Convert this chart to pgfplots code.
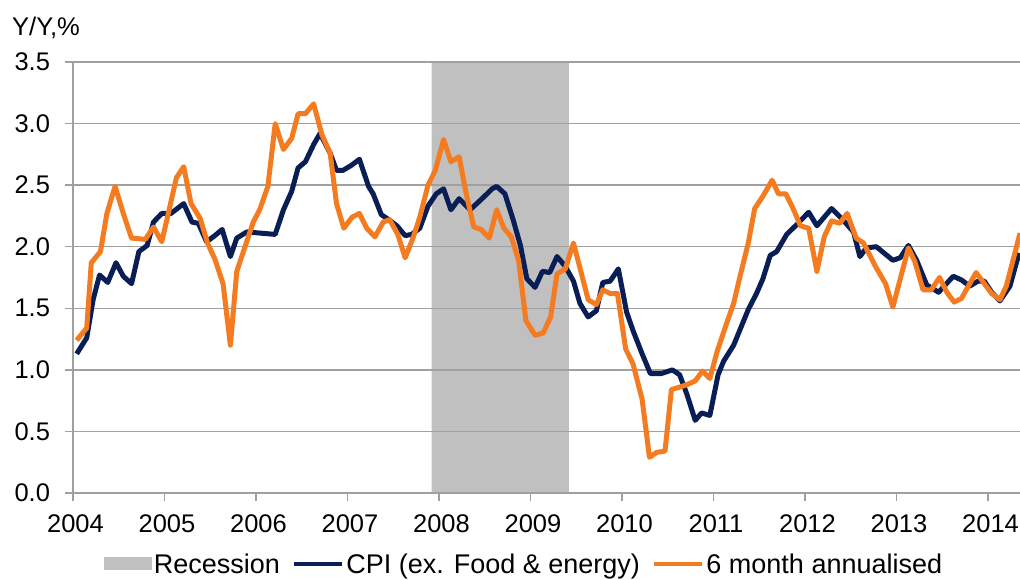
\documentclass[border=0pt]{standalone}
\usepackage{pgfplots}
\pgfplotsset{compat=1.18}
\usepackage{fontspec}
\setmainfont{Liberation Sans}
\definecolor{navy}{HTML}{0A1E56}
\definecolor{orng}{HTML}{F57B20}
\definecolor{recg}{HTML}{C0C0C0}
\definecolor{gridg}{HTML}{A0A0A0}
\begin{document}
\begin{tikzpicture}
\begin{axis}[
  set layers,
  scale only axis,
  width=960.75pt, height=431pt,
  at={(73pt,86pt)}, anchor=south west,
  xmin=2004, xmax=2014.5,
  ymin=0, ymax=3.5,
  axis lines*=left,
  axis line style={-, draw=gridg, line width=1.5pt},
  xtick={2004,2005,...,2014},
  ytick={0,0.5,...,3.5},
  tick align=outside,
  major tick length=8pt,
  tick style={draw=gridg, line width=1.5pt},
  ymajorgrids,
  major grid style={draw=gridg, line width=1.5pt},
  /pgf/number format/assume math mode=true,
  xticklabel style={font=\fontsize{25.5}{25.5}\selectfont, yshift=-10pt, xshift=2.5pt, /pgf/number format/1000 sep={}},
  yticklabel style={font=\fontsize{25.5}{25.5}\selectfont, xshift=-11.5pt, /pgf/number format/.cd, fixed, fixed zerofill, precision=1},
  legend style={draw=none, fill=none, font=\fontsize{27}{27}\selectfont,
    nodes={inner sep=2pt},
    legend columns=3, at={(0.4694,-0.1647)}, anchor=center,
    /tikz/every even column/.append style={column sep=10pt}},
]
\addplot[on layer=axis background, fill=recg, draw=none,
  legend image code/.code={\fill[recg] (0pt,-6.5pt) rectangle (48pt,6.5pt);}]
  coordinates {(2007.92,0) (2007.92,3.5) (2009.42,3.5) (2009.42,0)} \closedcycle;
\addlegendentry{Recession}
\addplot[navy, line width=5pt, line join=round,
  legend image code/.code={\draw[navy, line width=4.5pt] (0pt,0pt) -- (48pt,0pt);}]
  coordinates {
(2004.04,1.13) (2004.15,1.26) (2004.22,1.57) (2004.29,1.77) (2004.38,1.71)
(2004.47,1.87) (2004.55,1.76) (2004.64,1.70) (2004.72,1.96) (2004.81,2.01)
(2004.88,2.20) (2004.97,2.27) (2005.07,2.27) (2005.21,2.35) (2005.30,2.20)
(2005.37,2.19) (2005.46,2.04) (2005.55,2.09) (2005.63,2.14) (2005.72,1.92)
(2005.79,2.07) (2005.90,2.12) (2006.21,2.10) (2006.30,2.30) (2006.39,2.45)
(2006.46,2.64) (2006.54,2.69) (2006.63,2.83) (2006.70,2.92) (2006.81,2.76)
(2006.88,2.62) (2006.95,2.62) (2007.04,2.66) (2007.13,2.71) (2007.23,2.49)
(2007.28,2.43) (2007.37,2.26) (2007.45,2.22) (2007.54,2.17) (2007.63,2.09)
(2007.70,2.10) (2007.79,2.15) (2007.88,2.33) (2007.97,2.43) (2008.05,2.47)
(2008.13,2.30) (2008.22,2.39) (2008.34,2.30) (2008.47,2.39) (2008.58,2.47)
(2008.63,2.49) (2008.72,2.43) (2008.81,2.22) (2008.89,2.01) (2008.96,1.74)
(2009.05,1.67) (2009.13,1.80) (2009.21,1.79) (2009.29,1.92) (2009.38,1.84)
(2009.47,1.72) (2009.54,1.54) (2009.63,1.43) (2009.72,1.48) (2009.79,1.71)
(2009.87,1.72) (2009.96,1.82) (2010.05,1.47) (2010.12,1.32) (2010.22,1.13)
(2010.31,0.97) (2010.43,0.97) (2010.55,1.00) (2010.63,0.96) (2010.71,0.80)
(2010.80,0.59) (2010.87,0.65) (2010.96,0.63) (2011.05,0.96) (2011.11,1.07)
(2011.22,1.20) (2011.38,1.49) (2011.47,1.62) (2011.54,1.74) (2011.62,1.93)
(2011.69,1.96) (2011.80,2.10) (2011.91,2.18) (2012.04,2.28) (2012.13,2.17)
(2012.29,2.31) (2012.40,2.23) (2012.53,2.12) (2012.60,1.92) (2012.67,1.99)
(2012.78,2.00) (2012.96,1.89) (2013.04,1.91) (2013.13,2.01) (2013.22,1.89)
(2013.33,1.69) (2013.46,1.63) (2013.62,1.76) (2013.71,1.73) (2013.80,1.68)
(2013.89,1.72) (2013.96,1.72) (2014.04,1.63) (2014.13,1.56) (2014.24,1.68)
(2014.34,1.95)
};
\addlegendentry{CPI (ex. Food \& energy)}
\addplot[orng, line width=5pt, line join=round,
  legend image code/.code={\draw[orng, line width=4.5pt] (0pt,0pt) -- (48pt,0pt);}]
  coordinates {
(2004.04,1.24) (2004.15,1.34) (2004.20,1.87) (2004.30,1.96) (2004.37,2.27)
(2004.46,2.49) (2004.55,2.27) (2004.64,2.07) (2004.79,2.06) (2004.88,2.16)
(2004.97,2.04) (2005.06,2.33) (2005.13,2.56) (2005.21,2.65) (2005.29,2.35)
(2005.39,2.23) (2005.47,2.03) (2005.55,1.90) (2005.64,1.70) (2005.72,1.20)
(2005.79,1.80) (2005.88,2.00) (2005.97,2.20) (2006.04,2.30) (2006.13,2.49)
(2006.21,3.00) (2006.30,2.79) (2006.39,2.88) (2006.46,3.08) (2006.54,3.08)
(2006.63,3.16) (2006.72,2.91) (2006.81,2.76) (2006.88,2.35) (2006.96,2.15)
(2007.05,2.24) (2007.13,2.27) (2007.21,2.15) (2007.30,2.08) (2007.39,2.20)
(2007.46,2.22) (2007.55,2.10) (2007.63,1.91) (2007.72,2.08) (2007.79,2.24)
(2007.88,2.50) (2007.96,2.62) (2008.05,2.87) (2008.13,2.69) (2008.22,2.73)
(2008.30,2.42) (2008.38,2.16) (2008.46,2.14) (2008.55,2.07) (2008.63,2.30)
(2008.71,2.15) (2008.79,2.08) (2008.87,1.89) (2008.95,1.40) (2009.05,1.28)
(2009.14,1.30) (2009.22,1.43) (2009.29,1.78) (2009.38,1.82) (2009.47,2.03)
(2009.55,1.80) (2009.63,1.57) (2009.72,1.53) (2009.79,1.65) (2009.87,1.62)
(2009.95,1.62) (2010.04,1.17) (2010.12,1.05) (2010.22,0.76) (2010.30,0.29)
(2010.38,0.33) (2010.47,0.34) (2010.54,0.84) (2010.63,0.86) (2010.71,0.88)
(2010.80,0.91) (2010.88,0.99) (2010.96,0.93) (2011.04,1.15) (2011.13,1.35)
(2011.22,1.54) (2011.29,1.76) (2011.38,2.03) (2011.45,2.31) (2011.54,2.41)
(2011.64,2.54) (2011.71,2.43) (2011.79,2.43) (2011.87,2.31) (2011.95,2.17)
(2012.04,2.15) (2012.13,1.80) (2012.21,2.08) (2012.29,2.21) (2012.38,2.19)
(2012.46,2.27) (2012.56,2.07) (2012.64,2.03) (2012.77,1.84) (2012.88,1.70)
(2012.96,1.51) (2013.13,1.99) (2013.20,1.88) (2013.29,1.65) (2013.38,1.65)
(2013.47,1.75) (2013.55,1.63) (2013.63,1.55) (2013.71,1.58) (2013.80,1.70)
(2013.87,1.79) (2013.97,1.69) (2014.04,1.62) (2014.13,1.57) (2014.20,1.68)
(2014.28,1.91) (2014.35,2.11)
};
\addlegendentry{6 month annualised}
\end{axis}
\node[anchor=base west, inner sep=0pt, font=\fontsize{25.5}{25.5}\selectfont] at (12pt,543pt) {Y/Y,\%};
\pgfresetboundingbox
\useasboundingbox (0,0) rectangle (1020pt,579pt);
\end{tikzpicture}
\end{document}
